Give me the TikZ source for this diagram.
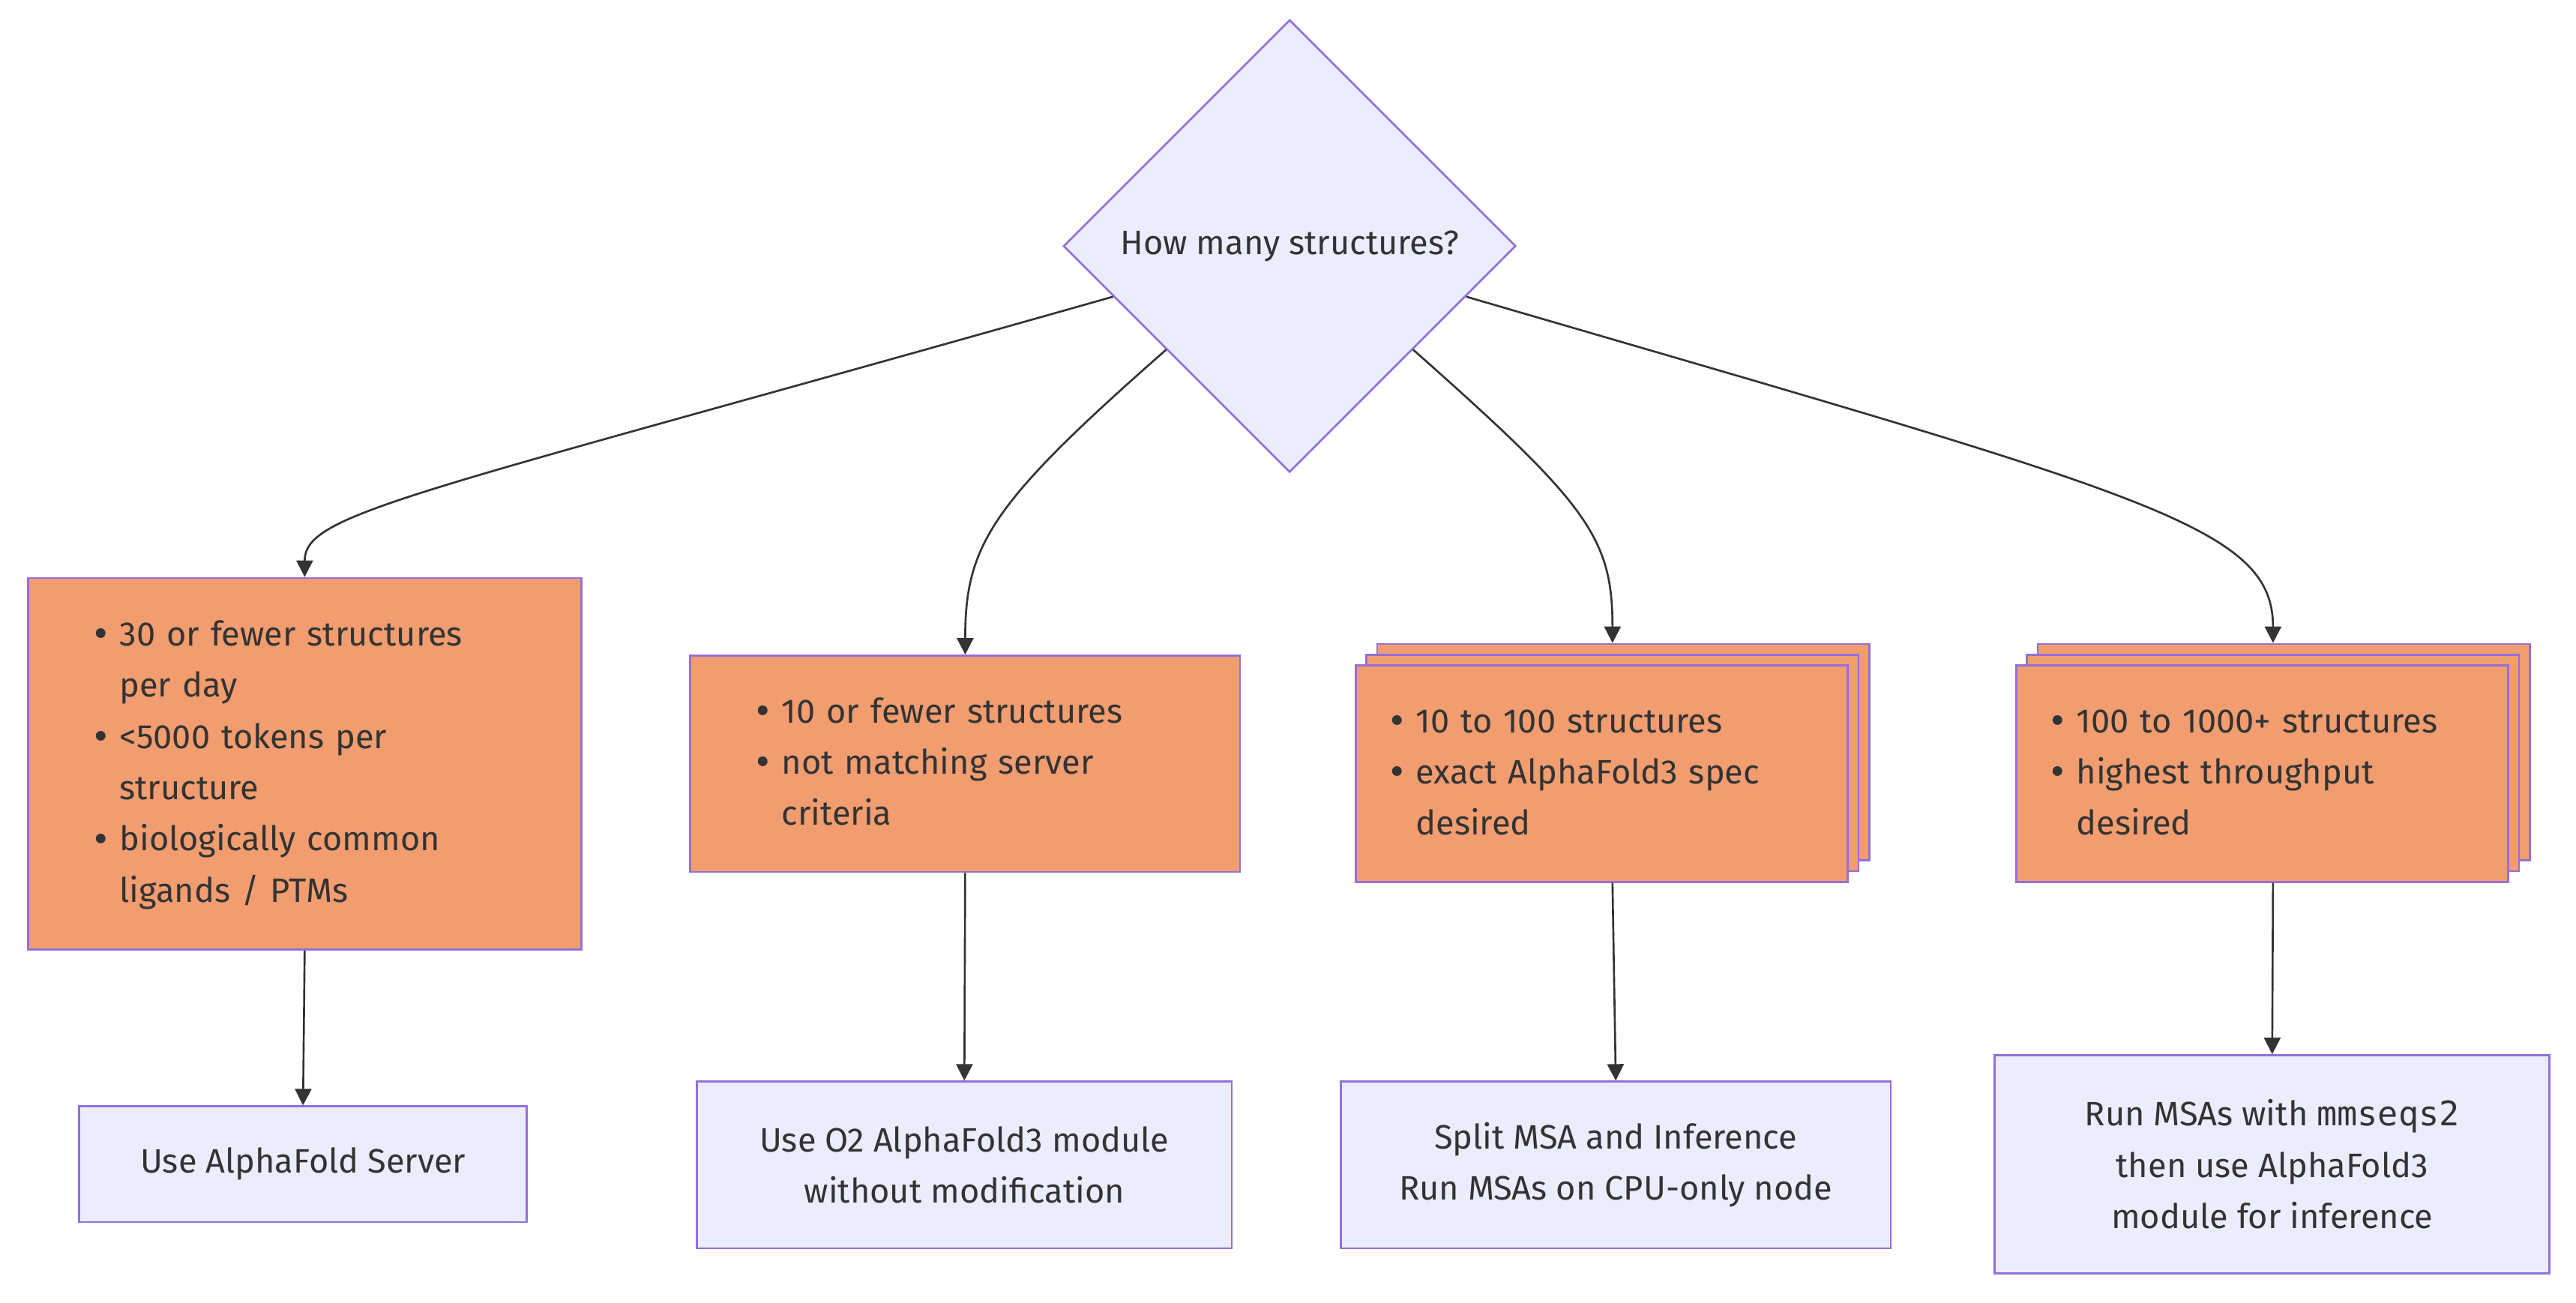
\documentclass[tikz,border=0pt]{standalone}
\usepackage{fontspec}
\setmainfont{Fira Sans}
\setmonofont{DejaVu Sans Mono}
\usetikzlibrary{arrows.meta,shapes.geometric,shadows}
\definecolor{lavfill}{HTML}{ECECFF}
\definecolor{lavline}{HTML}{9370DB}
\definecolor{orng}{HTML}{F19D70}
\definecolor{ink}{HTML}{333333}
\newcommand{\bul}{\raisebox{-1.5pt}{\fontsize{26}{31}\selectfont\textbullet}}
\tikzset{question/.style={
            draw=lavline,
            fill=lavfill,
            diamond,
            aspect=1,
            line width=1.2pt,
            inner sep=0pt,
            minimum width=274pt,
            minimum height=274pt
        },
        crit/.style={
            draw=lavline,
            fill=orng,
            line width=1.2pt,
            inner ysep=0pt,
            align=left
        },
        stackbox/.style={
            crit,
            copy shadow={shadow xshift=13pt,shadow yshift=13pt,fill=orng,draw=lavline,line width=1.2pt},
            copy shadow={shadow xshift=6.5pt,shadow yshift=6.5pt,fill=orng,draw=lavline,line width=1.2pt}
        },
        action/.style={
            draw=lavline,
            fill=lavfill,
            line width=1.2pt,
            inner sep=0pt,
            align=center
        },
        link/.style={
            ->,
            >={Triangle[length=10pt,width=10pt]},
            draw=ink,
            line width=1.2pt
        }
    }

\begin{document}
\begin{tikzpicture}[x=1pt,y=-1pt,font=\fontsize{20.5}{31}\selectfont,text=ink]
        \fill[white] (0,0) rectangle (1560,789);
        \node[question] (q) at (781,149) {How many structures?};
        % criteria
        \node[crit,text width=255pt,inner xsep=40pt,minimum height=225pt] (s1) at (184.5,462.5) {%
            \begin{tabular}{@{}l@{\hspace{7pt}}l@{}}
            \bul & 30 or fewer structures\\
             & per day\\
            \bul & <5000 tokens per\\
             & structure\\
            \bul & biologically common\\
             & ligands / PTMs
            \end{tabular}};
        \node[crit,text width=253pt,inner xsep=40pt,minimum height=131pt] (s2) at (584.5,462.5) {%
            \begin{tabular}{@{}l@{\hspace{7pt}}l@{}}
            \bul & 10 or fewer structures\\
            \bul & not matching server\\
             & criteria
            \end{tabular}};
        \node[stackbox,text width=256pt,inner xsep=21pt,minimum height=131pt] (s3) at (970,468.5) {%
            \begin{tabular}{@{}l@{\hspace{7pt}}l@{}}
            \bul & 10 to 100 structures\\
            \bul & exact AlphaFold3 spec\\
             & desired
            \end{tabular}};
        \node[stackbox,text width=256pt,inner xsep=21pt,minimum height=131pt] (s4) at (1370,468.5) {%
            \begin{tabular}{@{}l@{\hspace{7pt}}l@{}}
            \bul & 100 to 1000+ structures\\
            \bul & highest throughput\\
             & desired
            \end{tabular}};
        % outcomes
        \node[action,minimum width=271pt,minimum height=70pt] (r1) at (183.5,705) {Use AlphaFold Server};
        \node[action,minimum width=324pt,minimum height=101pt] (r2) at (584,705.5) {Use O2 AlphaFold3 module\\without modification};
        \node[action,minimum width=333pt,minimum height=101pt] (r3) at (978.5,705.5) {Split MSA and Inference\\Run MSAs on CPU-only node};
        \node[action,minimum width=336pt,minimum height=132pt] (r4) at (1376,705) {Run MSAs with \texttt{mmseqs2}\\then use AlphaFold3\\module for inference};
        \draw[link] (q.196) .. controls (250,300) and (184.5,310) .. (s1.north);
        \draw[link] (q.220) .. controls (600,305) and (584.5,330) .. (s2.north);
        \draw[link] (q.320) .. controls (961,305) and (976.5,325) .. ([xshift=6.5pt,yshift=13pt]s3.north);
        \draw[link] (q.344) .. controls (1300,300) and (1376.5,318) .. ([xshift=6.5pt,yshift=13pt]s4.north);
        \draw[link] (s1.south) -- (r1.north);
        \draw[link] (s2.south) -- (r2.north);
        \draw[link] ([xshift=6.5pt]s3.south) -- (r3.north);
        \draw[link] ([xshift=6.5pt]s4.south) -- (r4.north);
    \end{tikzpicture}
\end{document}
